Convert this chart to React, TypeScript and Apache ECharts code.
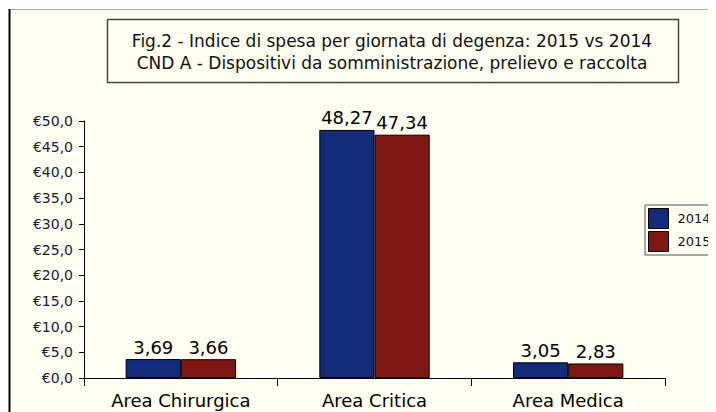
import React, { useEffect, useRef } from "react";
import * as echarts from "echarts";

const categories = ["Area Chirurgica", "Area Critica", "Area Medica"];
const values2014 = [3.69, 48.27, 3.05];
const values2015 = [3.66, 47.34, 2.83];
const seriesNames = ["2014", "2015"];
const titleLines = [
  "Fig.2 - Indice di spesa per giornata di degenza: 2015 vs 2014",
  "CND A - Dispositivi da somministrazione, prelievo e raccolta",
];

const FONT = "'DejaVu Sans', 'Liberation Sans', Arial, sans-serif";

export default function App() {
  const ref = useRef<HTMLDivElement>(null);
  useEffect(() => {
    if (!ref.current) return;
    const chart = echarts.init(ref.current, null, { renderer: "svg" });
    const labelFmt = (p: any) => Number(p.value).toFixed(2).replace(".", ",");
    chart.setOption({
      animation: false,
      backgroundColor: "#ffffff",
      textStyle: { fontFamily: FONT },
      graphic: [
        { type: "rect", z: -10, shape: { x: 2, y: 2, width: 720, height: 420 }, style: { fill: "#fffff2" } },
        { type: "line", z: -5, shape: { x1: 1, y1: 1.5, x2: 720, y2: 1.5 }, style: { stroke: "#b0b0b0", lineWidth: 1 } },
        { type: "line", z: -5, shape: { x1: 1.5, y1: 1, x2: 1.5, y2: 420 }, style: { stroke: "#000000", lineWidth: 2 } },
        {
          type: "rect",
          shape: { x: 99.5, y: 11.5, width: 571, height: 63 },
          style: { fill: "#fffff2", stroke: "#444444", lineWidth: 1.5 },
        },
        {
          type: "text",
          x: 384,
          y: 33,
          style: { text: titleLines[0], fill: "#111", font: `17px ${FONT}`, align: "center", verticalAlign: "middle" },
        },
        {
          type: "text",
          x: 384,
          y: 55,
          style: { text: titleLines[1], fill: "#111", font: `17px ${FONT}`, align: "center", verticalAlign: "middle" },
        },
      ],
      legend: {
        data: seriesNames,
        orient: "vertical",
        left: 637,
        top: 197,
        itemWidth: 20,
        itemHeight: 20,
        itemGap: 2,
        padding: [3, 20, 3, 3],
        borderColor: "#555",
        borderWidth: 1,
        backgroundColor: "#fffff2",
        icon: "rect",
        itemStyle: { borderColor: "#000", borderWidth: 1 },
        textStyle: { fontSize: 13, color: "#111", fontFamily: FONT, padding: [0, 0, 0, 4] },
      },
      grid: { left: 76, right: 51, top: 113, bottom: 34, containLabel: false },
      xAxis: {
        type: "category",
        data: categories,
        axisLine: { lineStyle: { color: "#000", width: 1 } },
        axisTick: { show: true, length: 8, lineStyle: { color: "#000" } },
        axisLabel: { fontSize: 18, color: "#000", margin: 13, fontFamily: FONT },
      },
      yAxis: {
        type: "value",
        min: 0,
        max: 50,
        interval: 5,
        splitLine: { show: false },
        axisLine: { show: true, lineStyle: { color: "#000", width: 1 } },
        axisTick: { show: true, length: 5, lineStyle: { color: "#000" } },
        axisLabel: {
          fontSize: 14,
          color: "#1a1a38",
          margin: 11,
          fontFamily: FONT,
          formatter: (v: number) => "€" + v.toFixed(1).replace(".", ","),
        },
      },
      series: [
        {
          name: seriesNames[0],
          type: "bar",
          data: values2014,
          barGap: "0%",
          barCategoryGap: "43%",
          itemStyle: { color: "#132b78", borderColor: "#000", borderWidth: 1 },
          label: { show: true, position: "top", distance: 3, fontSize: 18, color: "#000", fontFamily: FONT, formatter: labelFmt },
        },
        {
          name: seriesNames[1],
          type: "bar",
          data: values2015,
          itemStyle: { color: "#7e1813", borderColor: "#000", borderWidth: 1 },
          label: { show: true, position: "top", distance: 3, fontSize: 18, color: "#000", fontFamily: FONT, formatter: labelFmt },
        },
      ],
    });
    return () => chart.dispose();
  }, []);
  return <div ref={ref} style={{ width: 708, height: 404 }} />;
}
